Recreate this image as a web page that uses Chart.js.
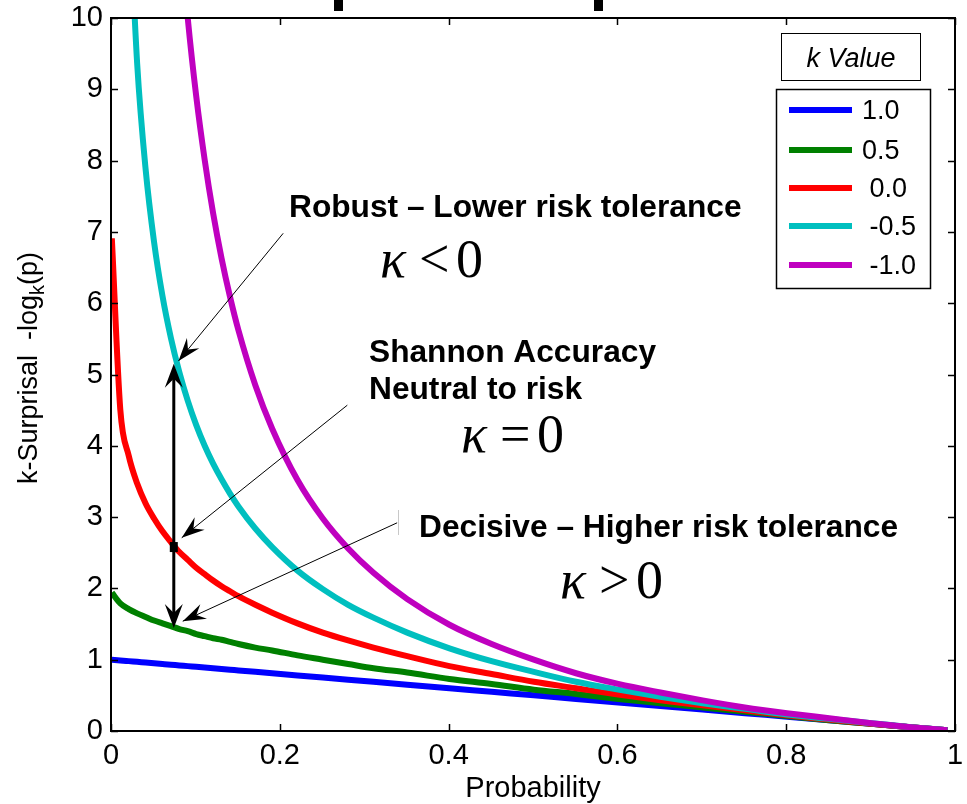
<!DOCTYPE html>
<html><head><meta charset="utf-8">
<script src="https://cdn.jsdelivr.net/npm/chart.js@4.4.0/dist/chart.umd.min.js"></script>
<style>html,body{margin:0;padding:0;background:#fff;}canvas{display:block;}</style>
</head><body>
<canvas id="c" width="967" height="804"></canvas>
<script>
// ---- data ----
const probability = [0.001,0.011,0.021,0.031,0.041,0.051,0.061,0.071,0.081,0.091,0.101,0.111,0.121,0.131,0.141,0.151,0.171,0.191,0.221,0.251,0.281,0.311,0.351,0.401,0.451,0.501,0.551,0.601,0.651,0.701,0.751,0.801,0.851,0.901,0.951,0.991];
const kValueLabels = ['1.0','0.5',' 0.0',' -0.5',' -1.0'];
const surprisalK1   = [1.00,0.99,0.98,0.97,0.96,0.95,0.94,0.93,0.92,0.91,0.90,0.89,0.88,0.87,0.86,0.85,0.83,0.81,0.78,0.75,0.72,0.69,0.65,0.60,0.55,0.50,0.45,0.40,0.35,0.30,0.25,0.20,0.15,0.10,0.05,0.01];
const surprisalK05  = [1.94,1.79,1.71,1.65,1.60,1.55,1.51,1.47,1.43,1.40,1.36,1.33,1.30,1.28,1.25,1.22,1.17,1.13,1.06,1.00,0.94,0.88,0.82,0.73,0.66,0.58,0.52,0.45,0.39,0.33,0.27,0.21,0.15,0.10,0.05,0.01];
const surprisalK0   = [6.91,4.51,3.86,3.47,3.19,2.98,2.80,2.65,2.51,2.40,2.29,2.20,2.11,2.03,1.96,1.89,1.77,1.66,1.51,1.38,1.27,1.17,1.05,0.91,0.80,0.69,0.60,0.51,0.43,0.36,0.29,0.22,0.16,0.10,0.05,0.01];
const surprisalKm05 = [61.2,17.07,11.80,9.36,7.88,6.86,6.10,5.51,5.03,4.63,4.29,4.00,3.75,3.53,3.33,3.15,2.84,2.58,2.25,1.99,1.77,1.59,1.38,1.16,0.98,0.83,0.69,0.58,0.48,0.39,0.31,0.23,0.17,0.11,0.05,0.01];
const surprisalKm1  = [999,89.9,46.6,31.3,23.4,18.6,15.4,13.1,11.35,9.99,8.90,8.01,7.26,6.63,6.09,5.62,4.85,4.24,3.52,2.98,2.56,2.22,1.85,1.49,1.22,1.00,0.81,0.66,0.54,0.43,0.33,0.25,0.18,0.11,0.05,0.01];
const xTickLabels = ['0','0.2','0.4','0.6','0.8','1'];
const xRange = [0, 1];
const yRange = [0, 10];

// ---- styling ----
const seriesColors = ['#0000FF','#008000','#FF0000','#00BFBF','#BF00BF'];
const SANS = '"Liberation Sans", Arial, Helvetica, sans-serif';
const SERIF = '"Liberation Serif", "Times New Roman", serif';

const allSeries = [surprisalK1, surprisalK05, surprisalK0, surprisalKm05, surprisalKm1];
const datasets = allSeries.map((ys, i) => ({
  label: kValueLabels[i].trim(),
  data: probability.map((p, j) => ({x: p, y: ys[j]})),
  borderColor: seriesColors[i],
  backgroundColor: seriesColors[i],
  borderWidth: 6,
  pointRadius: 0,
  fill: false,
  cubicInterpolationMode: 'monotone',
  borderJoinStyle: 'round',
  order: allSeries.length - i
}));

function arrowHead(ctx, tx, ty, fx, fy, len, half, notch) {
  const ang = Math.atan2(ty - fy, tx - fx);
  ctx.save();
  ctx.translate(tx, ty); ctx.rotate(ang);
  ctx.beginPath();
  ctx.moveTo(0, 0);
  ctx.lineTo(-len, -half);
  ctx.lineTo(-len * notch, 0);
  ctx.lineTo(-len, half);
  ctx.closePath();
  ctx.fill();
  ctx.restore();
}

const framePlugin = {
  id: 'frame',
  afterDatasetsDraw(chart) {
    const {ctx, chartArea: a, scales: {x, y}} = chart;
    ctx.save();
    ctx.strokeStyle = '#000';
    ctx.lineWidth = 1.5;
    const TL = 7;
    x.ticks.forEach(t => {
      const px = Math.round(x.getPixelForValue(t.value)) + 0.5;
      ctx.beginPath();
      ctx.moveTo(px, a.bottom); ctx.lineTo(px, a.bottom - TL);
      ctx.moveTo(px, a.top); ctx.lineTo(px, a.top + TL);
      ctx.stroke();
    });
    y.ticks.forEach(t => {
      const py = Math.round(y.getPixelForValue(t.value)) + 0.5;
      ctx.beginPath();
      ctx.moveTo(a.left, py); ctx.lineTo(a.left + TL, py);
      ctx.moveTo(a.right, py); ctx.lineTo(a.right - TL, py);
      ctx.stroke();
    });
    ctx.lineWidth = 2;
    ctx.strokeRect(a.left, a.top, a.right - a.left, a.bottom - a.top);
    ctx.restore();
  }
};

const annotationPlugin = {
  id: 'annotations',
  afterDatasetsDraw(chart) {
    const {ctx, scales: {x, y}} = chart;
    const P = (vx, vy) => [x.getPixelForValue(vx), y.getPixelForValue(vy)];
    ctx.save();
    ctx.fillStyle = '#000';
    ctx.strokeStyle = '#000';

    // double-headed vertical arrow
    const [ax, ayTop] = P(0.0744, 5.15);
    const [, ayBot] = P(0.0744, 1.445);
    ctx.lineWidth = 3;
    ctx.beginPath(); ctx.moveTo(ax, ayTop + 12); ctx.lineTo(ax, ayBot - 12); ctx.stroke();
    arrowHead(ctx, ax, ayTop, ax, ayBot, 24, 9, 0.62);
    arrowHead(ctx, ax, ayBot, ax, ayTop, 24, 9, 0.62);
    const [, sq] = P(0.0744, 2.58);
    ctx.fillRect(ax - 4, sq - 5, 8, 10);

    // thin pointer arrows
    const pointers = [
      [0.204, 6.98, 0.080, 5.19],
      [0.280, 4.57, 0.0838, 2.71],
      [0.339, 2.92, 0.085, 1.54]
    ];
    ctx.lineWidth = 1;
    pointers.forEach(([fx, fy, tx, ty]) => {
      const [x1, y1] = P(fx, fy), [x2, y2] = P(tx, ty);
      ctx.beginPath(); ctx.moveTo(x1, y1); ctx.lineTo(x2, y2); ctx.stroke();
      arrowHead(ctx, x2, y2, x1, y1, 23, 8, 0.65);
    });
    // small cursor mark
    ctx.strokeStyle = '#c8c8c8';
    ctx.beginPath(); ctx.moveTo(398.5, 510); ctx.lineTo(398.5, 535); ctx.stroke();

    // annotation text
    ctx.fillStyle = '#000';
    ctx.textBaseline = 'alphabetic';
    ctx.textAlign = 'left';
    ctx.font = 'bold 31.7px ' + SANS;
    ctx.fillText('Robust \u2013 Lower risk tolerance', 289, 217);
    ctx.fillText('Shannon Accuracy', 369, 362);
    ctx.fillText('Neutral to risk', 369, 399);
    ctx.fillText('Decisive \u2013 Higher risk tolerance', 419, 537);

    const kappa = (x0, base, op) => {
      ctx.font = 'italic 54px ' + SERIF;
      ctx.fillText('\u03BA', x0, base);
      ctx.font = '54px ' + SERIF;
      ctx.fillText(op, x0 + 39, base);
      ctx.fillText('0', x0 + 76, base);
    };
    kappa(380, 277, '<');
    kappa(461, 452, '=');
    kappa(560, 598, '>');

    // y-axis title with subscript
    ctx.save();
    ctx.translate(37, 368);
    ctx.rotate(-Math.PI / 2);
    ctx.font = '27px ' + SANS;
    const s1 = 'k-Surprisal  -log', s3 = '(p)';
    const w1 = ctx.measureText(s1).width, w3 = ctx.measureText(s3).width;
    ctx.font = '20px ' + SANS;
    const w2 = ctx.measureText('k').width;
    const total = w1 + w2 + w3;
    let cx = -total / 2;
    ctx.font = '27px ' + SANS;
    ctx.fillText(s1, cx, 0); cx += w1;
    ctx.font = '20px ' + SANS;
    ctx.fillText('k', cx, 7); cx += w2;
    ctx.font = '27px ' + SANS;
    ctx.fillText(s3, cx, 0);
    ctx.restore();

    // fragments of the clipped title at the very top
    ctx.fillRect(334, 0, 9, 11);
    ctx.fillRect(594, 0, 9, 11);

    // legend
    ctx.lineWidth = 1;
    ctx.strokeStyle = '#000';
    ctx.fillStyle = '#fff';
    ctx.fillRect(781, 33, 139, 47);
    ctx.strokeRect(781.5, 33.5, 139, 47);
    ctx.fillRect(776, 89, 154, 199);
    ctx.lineWidth = 1.5;
    ctx.strokeRect(776.5, 89.5, 154, 199);
    ctx.fillStyle = '#000';
    ctx.font = 'italic 27px ' + SANS;
    ctx.textAlign = 'center';
    ctx.textBaseline = 'alphabetic';
    ctx.fillText('k Value', 851, 67);
    ctx.textAlign = 'left';
    ctx.textBaseline = 'middle';
    ctx.font = '27px ' + SANS;
    const rowY = [110, 150, 188, 226, 265];
    kValueLabels.forEach((lab, i) => {
      ctx.strokeStyle = seriesColors[i];
      ctx.lineWidth = 6;
      ctx.beginPath(); ctx.moveTo(789, rowY[i]); ctx.lineTo(852, rowY[i]); ctx.stroke();
      ctx.fillText(lab, 862, rowY[i] + 2);
    });
    ctx.restore();
  }
};

new Chart(document.getElementById('c'), {
  type: 'line',
  data: {datasets},
  options: {
    responsive: false,
    animation: false,
    devicePixelRatio: 1,
    layout: {padding: {top: 18, right: 12, left: 0, bottom: 0}},
    plugins: {legend: {display: false}, tooltip: {enabled: false}},
    scales: {
      x: {
        type: 'linear', min: xRange[0], max: xRange[1],
        ticks: {stepSize: 0.2, color: '#000', font: {family: SANS, size: 29}, padding: 8, maxRotation: 0,
                callback: (v, i) => xTickLabels[i]},
        grid: {display: false, drawTicks: false},
        border: {display: false},
        title: {display: true, text: 'Probability', color: '#000', font: {family: SANS, size: 29}, padding: {top: 0, bottom: -2}},
        afterFit(s) { s.height = 73; s.paddingLeft = 0; s.paddingRight = 0; }
      },
      y: {
        type: 'linear', min: yRange[0], max: yRange[1],
        ticks: {stepSize: 1, color: '#000', font: {family: SANS, size: 29}, padding: 8},
        grid: {display: false, drawTicks: false},
        border: {display: false},
        afterFit(s) { s.width = 111; s.paddingTop = 0; s.paddingBottom = 0; }
      }
    }
  },
  plugins: [framePlugin, annotationPlugin]
});
</script>
</body></html>
